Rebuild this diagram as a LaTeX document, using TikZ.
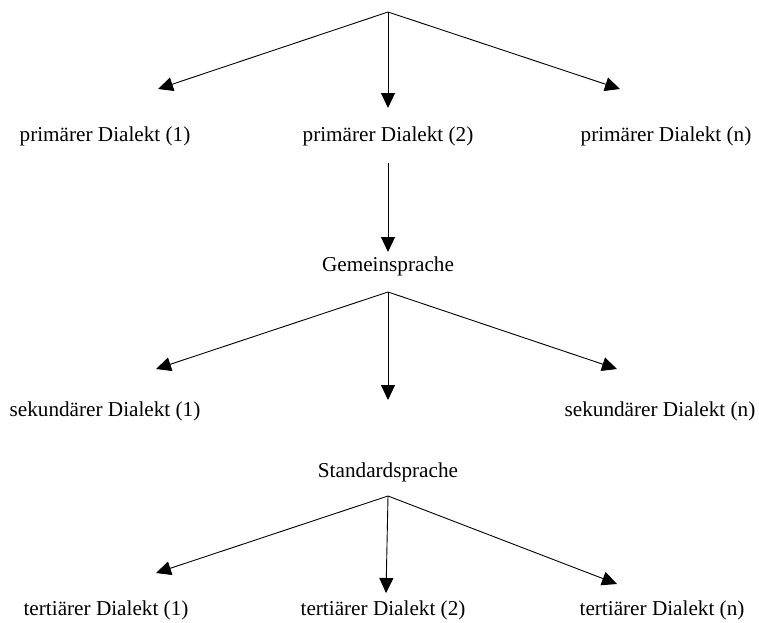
\documentclass[tikz,border=0pt]{standalone}
\usepackage{fontspec}
\setmainfont{Liberation Serif}
\usetikzlibrary{arrows.meta, calc}
\tikzstyle{lbl}=[inner sep=0pt]
\tikzstyle{arr}=[-{Triangle[length=15pt,width=14pt]}, line width=0.9pt]
\tikzset{every node/.style={font=\fontsize{21.2}{25}\selectfont}}

\begin{document}
\begin{tikzpicture}[x=1pt,y=-1pt]
      \useasboundingbox (0,0) rectangle (759,622);
      \coordinate (root) at (388,12);
      % first level
      \node[lbl] (p1) at (105,136) {primärer Dialekt (1)};
      \node[lbl] (p2) at (388,136) {primärer Dialekt (2)};
      \node[lbl] (pn) at (666,136) {primärer Dialekt (n)};
      \node[lbl] (gem) at (388,266) {Gemeinsprache};
      % second level
      \node[lbl] (s1) at (105,411) {sekundärer Dialekt (1)};
      \node[lbl] (sn) at (660,411) {sekundärer Dialekt (n)};
      \node[lbl] (std) at (388,472) {Standardsprache};
      % third level
      \node[lbl] (t1) at (106,610) {tertiärer Dialekt (1)};
      \node[lbl] (t2) at (383,610) {tertiärer Dialekt (2)};
      \node[lbl] (tn) at (662,610) {tertiärer Dialekt (n)};
      \draw[arr] (root) -- ($(p1)+(53,-47)$);
      \draw[arr] (root) -- ($(p2)+(0,-28)$);
      \draw[arr] (root) -- ($(pn)+(-46,-47)$);
      \draw[arr] ($(p2)+(0,27)$) -- ($(gem)+(0,-14)$);
      \draw[arr] ($(gem)+(0,26)$) -- ($(s1)+(51,-42)$);
      \draw[arr] ($(gem)+(0,26)$) -- ($(std)+(0,-72)$);
      \draw[arr] ($(gem)+(0,26)$) -- ($(sn)+(-43,-42)$);
      \draw[arr] ($(std)+(0,24)$) -- ($(t1)+(50,-37)$);
      \draw[arr] ($(std)+(0,24)$) -- ($(t2)+(3,-17)$);
      \draw[arr] ($(std)+(0,24)$) -- ($(tn)+(-45,-26)$);
    \end{tikzpicture}
\end{document}
